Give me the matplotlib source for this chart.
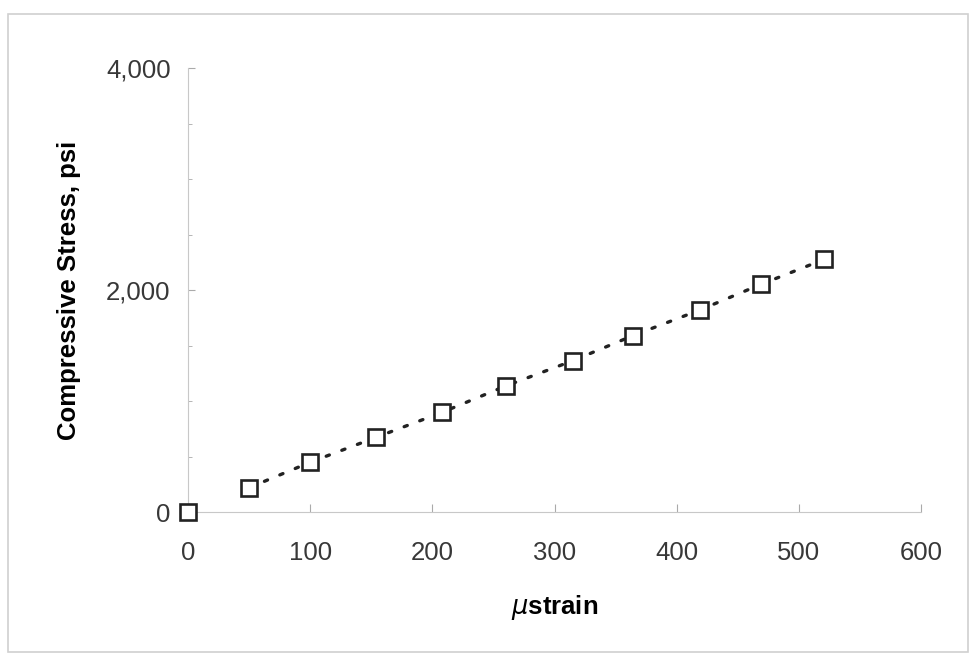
import matplotlib
matplotlib.use('Agg')
import matplotlib.pyplot as plt
from matplotlib.patches import Rectangle
from matplotlib.ticker import FuncFormatter, MultipleLocator

plt.rcParams['font.family'] = ['Liberation Sans', 'DejaVu Sans']

# 数据
strain = [0, 50, 100, 154, 208, 260, 315, 364, 419, 469, 521]
stress = [0, 219, 448, 673, 898, 1135, 1363, 1588, 1820, 2051, 2277]
x_ticks = [0, 100, 200, 300, 400, 500, 600]
y_ticks = [0, 2000, 4000]

fig = plt.figure(figsize=(9.73, 6.6), dpi=100)
ax = fig.add_axes([188 / 973, 1 - 512 / 660, 733 / 973, 444 / 660])

# 趋势线（虚点）
ax.plot(strain[1:], stress[1:], linestyle=(0, (1, 4)), color='#222222',
        lw=2.4, dash_capstyle='round', zorder=2)
ax.plot(strain, stress, linestyle='none', marker='s', ms=11, mew=1.9,
        mfc='white', mec='#222222', clip_on=False, zorder=3)

ax.set_xlim(0, 600)
ax.set_ylim(0, 4000)
ax.set_xticks(x_ticks)
ax.set_yticks(y_ticks)
ax.yaxis.set_minor_locator(MultipleLocator(500))
ax.yaxis.set_major_formatter(FuncFormatter(lambda v, p: f'{int(v):,}'))

for s in ['top', 'right']:
    ax.spines[s].set_visible(False)
for s in ['left', 'bottom']:
    ax.spines[s].set_color('#c8c8c8')
    ax.spines[s].set_linewidth(0.8)

ax.tick_params(axis='both', which='both', direction='in', color='#aaaaaa',
               labelsize=18.5, labelcolor='#383838')
ax.tick_params(axis='y', which='major', length=5, pad=12.5)
ax.tick_params(axis='y', which='minor', length=3)
ax.tick_params(axis='x', which='major', length=6, pad=21)

ax.set_xlabel(r'$\mu$strain', fontsize=18.5, fontweight='bold', labelpad=20)
ax.set_ylabel('Compressive Stress, psi', fontsize=18.5, fontweight='bold',
              labelpad=18)

# 扫描边框
fig.patches.append(Rectangle((8 / 973, 8 / 660), 960 / 973, 638 / 660,
                             transform=fig.transFigure, fill=False,
                             edgecolor='#d0d0d0', lw=1.2))

fig.savefig('out.png', dpi=100)
